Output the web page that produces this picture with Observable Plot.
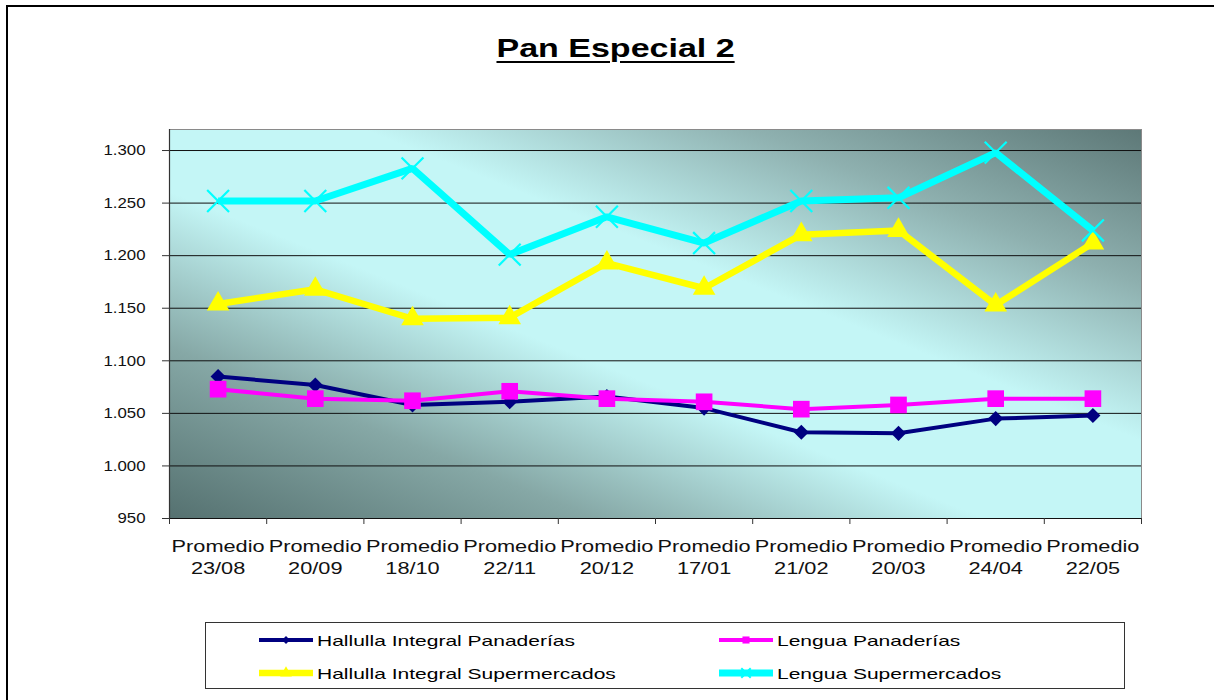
<!DOCTYPE html>
<html>
<head>
<meta charset="utf-8">
<script src="https://cdn.jsdelivr.net/npm/d3@7"></script>
<script src="https://cdn.jsdelivr.net/npm/@observablehq/plot@0.6"></script>
<style>
  html, body { margin: 0; padding: 0; background: #fff; }
  #page { position: relative; width: 1214px; height: 700px; overflow: hidden; font-family: "Liberation Sans", Arial, sans-serif; }
  #border { position: absolute; left: 6px; top: 5px; width: 1300px; height: 800px; border-top: 2px solid #000; border-left: 2px solid #000; }
  #title { position: absolute; top: 34px; left: 0; width: 1232px; text-align: center; }
  #title span { display: inline-block; font-weight: bold; font-size: 25px; text-decoration: underline; text-decoration-thickness: 2px; text-underline-offset: 4px; transform: scaleX(1.36); color: #000; }
  #chart { position: absolute; left: 0; top: 100px; }
  #legend { position: absolute; left: 205px; top: 622px; width: 920px; height: 67px; border: 1.5px solid #333; box-sizing: border-box; background: #fff; }
  .item { position: absolute; height: 22px; display: flex; align-items: center; }
  .item svg { flex: none; }
  .item span { display: inline-block; font-size: 15px; transform: scaleX(1.4); transform-origin: left center; white-space: nowrap; margin-left: 3px; color: #000; }
</style>
</head>
<body>
<div id="page">
  <div id="border"></div>
  <div id="title"><span>Pan Especial 2</span></div>
  <div id="chart"></div>
  <div id="legend"></div>
</div>
<script>
// ---- data ----
const fechas = ["23/08", "20/09", "18/10", "22/11", "20/12", "17/01", "21/02", "20/03", "24/04", "22/05"];
const categorias = fechas.map(f => "Promedio\n" + f);
const hallullaIntegralPanaderias = [1085, 1077, 1058, 1061, 1066, 1055, 1032, 1031, 1045, 1048];
const lenguaPanaderias = [1073, 1064, 1062, 1071, 1064, 1061, 1054, 1058, 1064, 1064];
const hallullaIntegralSupermercados = [1154, 1168, 1140, 1141, 1193, 1169, 1220, 1224, 1153, 1212];
const lenguaSupermercados = [1252, 1252, 1283, 1201, 1237, 1212, 1252, 1255, 1298, 1224];
const yTicks = [950, 1000, 1050, 1100, 1150, 1200, 1250, 1300];
const seriesNames = ["Hallulla Integral Panaderías", "Lengua Panaderías", "Hallulla Integral Supermercados", "Lengua Supermercados"];

// ---- styles ----
const seriesStyle = [
  {values: hallullaIntegralPanaderias, color: "#000080", width: 4, symbol: "diamond2", r: 6.8, mode: "fill"},
  {values: lenguaPanaderias, color: "#ff00ff", width: 4, symbol: "square", r: 9.4, mode: "fill"},
  {values: hallullaIntegralSupermercados, color: "#ffff00", width: 6.5, symbol: "triangle", r: 8.4, mode: "fill"},
  {values: lenguaSupermercados, color: "#00ffff", width: 7, symbol: "times", r: 10, mode: "stroke"}
];

const rows = seriesStyle.map((s, k) => s.values.map((v, i) => ({serie: seriesNames[k], i: i + 0.5, cat: categorias[i], value: v})));

const fmt = d => d3.format(",")(d).replace(/,/g, ".");

const marks = [
  Plot.frame({fill: "url(#bgGrad)", stroke: "#8a8a8a"}),
  Plot.ruleY(yTicks, {stroke: "#111", strokeWidth: 1}),
  Plot.ruleX([0], {stroke: "#333", strokeWidth: 1.2}),
  Plot.axisY({ticks: yTicks, tickSize: 7, tickPadding: 17, tickFormat: fmt, fontSize: 15, stroke: "#333", fill: "#111", label: null}),
  Plot.axisX({ticks: d3.range(0, categorias.length + 1), tickSize: 6, tickFormat: () => "", stroke: "#333", label: null}),
  Plot.axisX({ticks: categorias.map((c, i) => i + 0.5), tickSize: 0, tickPadding: 19, tickFormat: t => categorias[Math.floor(t)], fontSize: 17, lineHeight: 1.24, fill: "#111", label: null})
];
seriesStyle.forEach((s, k) => {
  marks.push(Plot.line(rows[k], {x: "i", y: "value", stroke: s.color, strokeWidth: s.width, strokeLinejoin: "miter", strokeLinecap: "butt"}));
});
seriesStyle.forEach((s, k) => {
  if (s.mode === "fill") {
    marks.push(Plot.dot(rows[k], {x: "i", y: "value", symbol: s.symbol, r: s.r, fill: s.color, stroke: "none"}));
  } else {
    marks.push(Plot.dot(rows[k], {x: "i", y: "value", symbol: s.symbol, r: s.r, stroke: s.color, strokeWidth: 2.2, fill: "none"}));
  }
});

const chart = Plot.plot({
  width: 1214,
  height: 480,
  marginLeft: 169,
  marginRight: 73,
  marginTop: 29,
  marginBottom: 62,
  style: {fontFamily: "'Liberation Sans', Arial, sans-serif", background: "transparent", color: "#111"},
  x: {type: "linear", domain: [0, categorias.length], axis: null, label: null},
  y: {domain: [950, 1320], axis: null, label: null},
  marks
});

// gradient background for the plot area
const ns = "http://www.w3.org/2000/svg";
const defs = document.createElementNS(ns, "defs");
defs.innerHTML = `<linearGradient id="bgGrad" x1="0" y1="1" x2="1" y2="0">
  <stop offset="0" stop-color="#557170"/>
  <stop offset="0.22" stop-color="#86a8a6"/>
  <stop offset="0.42" stop-color="#c4f6f6"/>
  <stop offset="0.6" stop-color="#c4f6f6"/>
  <stop offset="0.8" stop-color="#8eb0af"/>
  <stop offset="1" stop-color="#5d7877"/>
</linearGradient>`;
chart.insertBefore(defs, chart.firstChild);
document.getElementById("chart").appendChild(chart);

// widen the tick labels as in the reference
chart.querySelectorAll("g[aria-label='y-axis tick label'] text").forEach(t => {
  t.setAttribute("transform", (t.getAttribute("transform") || "") + " scale(1.12,1)");
});
chart.querySelectorAll("g[aria-label='x-axis tick label'] text").forEach(t => {
  t.setAttribute("transform", (t.getAttribute("transform") || "") + " scale(1.28,1)");
});

// ---- legend ----
const legend = document.getElementById("legend");
const pos = [[52, 6], [512, 6], [52, 39], [512, 39]];
seriesStyle.forEach((s, k) => {
  const div = document.createElement("div");
  div.className = "item";
  div.style.left = pos[k][0] + "px";
  div.style.top = pos[k][1] + "px";
  const svg = d3.create("svg").attr("width", 56).attr("height", 22);
  svg.append("line").attr("x1", 1).attr("x2", 55).attr("y1", 11).attr("y2", 11)
    .attr("stroke", s.color).attr("stroke-width", s.width);
  const symMap = {diamond2: d3.symbolDiamond2, square: d3.symbolSquare, triangle: d3.symbolTriangle, times: d3.symbolTimes};
  const size = {diamond2: 40, square: 50, triangle: 60, times: 60}[s.symbol];
  svg.append("path").attr("transform", "translate(28,11)")
    .attr("d", d3.symbol(symMap[s.symbol], size)())
    .attr("fill", s.mode === "fill" ? s.color : "none")
    .attr("stroke", s.mode === "fill" ? "none" : s.color)
    .attr("stroke-width", 2);
  div.appendChild(svg.node());
  const span = document.createElement("span");
  span.textContent = seriesNames[k];
  div.appendChild(span);
  legend.appendChild(div);
});
</script>
</body>
</html>
